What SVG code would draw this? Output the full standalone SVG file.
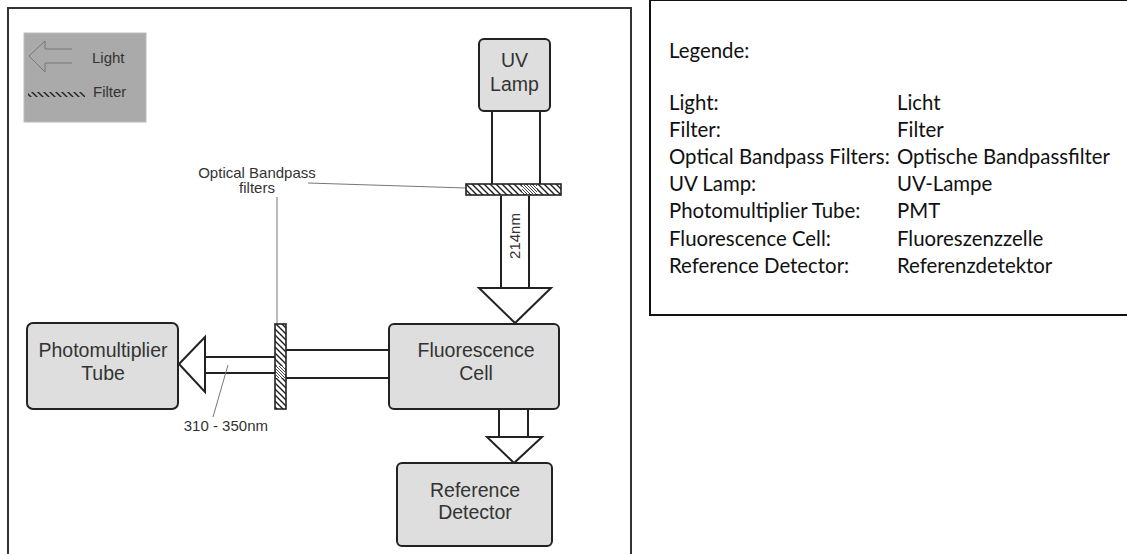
<svg xmlns="http://www.w3.org/2000/svg" width="1127" height="554" viewBox="0 0 1127 554">
<defs>
<pattern id="hatch" patternUnits="userSpaceOnUse" width="6" height="6">
<rect width="6" height="6" fill="#fff"/>
<path d="M-1,-1 L7,7 M-1,5 L1,7 M5,-1 L7,1" stroke="#222" stroke-width="1.4"/>
</pattern>
<pattern id="hatchDense" patternUnits="userSpaceOnUse" width="3" height="3">
<rect width="3" height="3" fill="#fff"/>
<path d="M-1,-1 L4,4 M-1,2 L1,4 M2,-1 L4,1" stroke="#333" stroke-width="0.9"/>
</pattern>
<pattern id="hatchKey" patternUnits="userSpaceOnUse" width="6" height="6">
<path d="M-1,-1 L7,7 M-1,5 L1,7 M5,-1 L7,1" stroke="#222" stroke-width="1.4"/>
</pattern>
<style>
.box{fill:#dedede;stroke:#222;stroke-width:2}
.beam{stroke:#222;stroke-width:2;fill:none}
.tri{fill:#fff;stroke:#222;stroke-width:2;stroke-linejoin:miter}
.lead{stroke:#777;stroke-width:1;fill:none}
.lbl{font-family:"Liberation Sans",Arial,sans-serif;font-size:19.5px;fill:#333;text-anchor:middle}
.sm{font-family:"Liberation Sans",Arial,sans-serif;font-size:15px;fill:#333}
.leg{font-family:Lato,"Open Sans",sans-serif;font-size:20.4px;fill:#111}
.filt{fill:url(#hatch);stroke:#222;stroke-width:1.6}
</style>
</defs>
<rect width="1127" height="554" fill="#fff"/>
<path d="M8,556 L8,8 L631,8 L631,556" fill="none" stroke="#333" stroke-width="2"/>
<g id="legend-box">
<rect x="650" y="0" width="490" height="315" fill="#fff" stroke="#111" stroke-width="2"/>
<text class="leg" x="669" y="58">Legende:</text>
<text class="leg" x="669" y="110">Light:</text><text class="leg" x="897" y="110">Licht</text>
<text class="leg" x="669" y="137">Filter:</text><text class="leg" x="897" y="137">Filter</text>
<text class="leg" x="669" y="164">Optical Bandpass Filters:</text><text class="leg" x="897" y="164">Optische Bandpassfilter</text>
<text class="leg" x="669" y="191">UV Lamp:</text><text class="leg" x="897" y="191">UV-Lampe</text>
<text class="leg" x="669" y="218">Photomultiplier Tube:</text><text class="leg" x="897" y="218">PMT</text>
<text class="leg" x="669" y="246">Fluorescence Cell:</text><text class="leg" x="897" y="246">Fluoreszenzzelle</text>
<text class="leg" x="669" y="273">Reference Detector:</text><text class="leg" x="897" y="273">Referenzdetektor</text>
</g>
<g id="symbol-key">
<rect x="24" y="33" width="122" height="89" fill="#aaa" stroke="#bbb" stroke-width="1"/>
<path d="M72,49 L45,49 L45,41 L29,56 L45,72 L45,63 L72,63" fill="none" stroke="#777" stroke-width="1"/>
<text class="sm" x="92" y="63">Light</text>
<rect x="28" y="92" width="57" height="5" fill="url(#hatchKey)"/>
<text class="sm" x="93" y="97">Filter</text>
</g>
<g id="connectors">
<line class="beam" x1="492" y1="111" x2="492" y2="184"/>
<line class="beam" x1="540" y1="111" x2="540" y2="184"/>
<line class="beam" x1="501" y1="196" x2="501" y2="288"/>
<line class="beam" x1="529" y1="196" x2="529" y2="288"/>
<polygon class="tri" points="479,288 551,288 515,323"/>
<line class="beam" x1="286" y1="350" x2="389" y2="350"/>
<line class="beam" x1="286" y1="378" x2="389" y2="378"/>
<line class="beam" x1="205" y1="357" x2="275" y2="357"/>
<line class="beam" x1="205" y1="373" x2="275" y2="373"/>
<polygon class="tri" points="205,337 205,392 179,364"/>
<line class="beam" x1="499" y1="409" x2="499" y2="437"/>
<line class="beam" x1="528" y1="409" x2="528" y2="437"/>
<polygon class="tri" points="487,437 542,437 514,463"/>
<line class="lead" x1="308" y1="183" x2="466" y2="188"/>
<line class="lead" x1="277" y1="197" x2="277" y2="324"/>
<line class="lead" x1="228" y1="365" x2="213" y2="417"/>
</g>
<g id="uv-lamp">
<rect class="box" x="479" y="39" width="71" height="72" rx="5"/>
<text class="lbl" x="514.5" y="67">UV</text>
<text class="lbl" x="514.5" y="91">Lamp</text>
</g>
<g id="filter-top">
<rect class="filt" x="466" y="184" width="95" height="11"/>
<rect x="522" y="185" width="15" height="9" fill="url(#hatchDense)"/>
</g>
<g id="filter-side">
<rect class="filt" x="275" y="324" width="11" height="85"/>
<rect x="276" y="366" width="9" height="12" fill="url(#hatchDense)"/>
</g>
<g id="fluorescence-cell">
<rect class="box" x="389" y="324" width="170" height="85" rx="5"/>
<text class="lbl" x="476" y="357">Fluorescence</text>
<text class="lbl" x="476" y="380">Cell</text>
</g>
<g id="photomultiplier-tube">
<rect class="box" x="27" y="323" width="151" height="86" rx="6"/>
<text class="lbl" x="103" y="357">Photomultiplier</text>
<text class="lbl" x="103" y="380">Tube</text>
</g>
<g id="reference-detector">
<rect class="box" x="397" y="463" width="155" height="83" rx="5"/>
<text class="lbl" x="475" y="497">Reference</text>
<text class="lbl" x="475" y="519">Detector</text>
</g>
<g id="labels">
<text class="sm" x="257" y="178" text-anchor="middle">Optical Bandpass</text>
<text class="sm" x="257" y="193" text-anchor="middle">filters</text>
<text class="sm" transform="translate(520,236) rotate(-90)" text-anchor="middle">214nm</text>
<text class="sm" x="268" y="431" text-anchor="end">310 - 350nm</text>
</g>
</svg>
